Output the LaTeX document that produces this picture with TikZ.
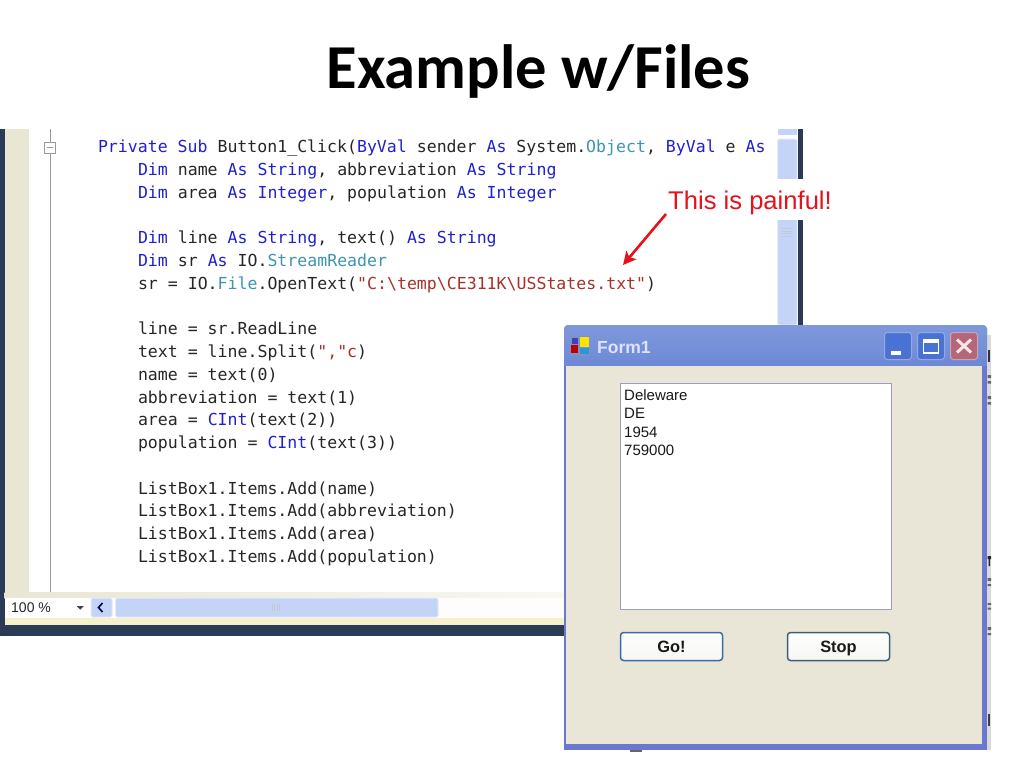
\documentclass[tikz,border=0pt]{standalone}
\usepackage{fontspec}
\usetikzlibrary{arrows.meta}
\setmainfont{Liberation Sans}
\newfontfamily\codefont{DejaVu Sans Mono}
\newfontfamily\titlefont{Carlito}
\definecolor{kwblue}{HTML}{2020D0}
\definecolor{typeteal}{HTML}{3F95AE}
\definecolor{strred}{HTML}{A8302A}
\definecolor{darkbar}{HTML}{2B3A55}
\definecolor{stripbeige}{HTML}{E9E6D4}
\definecolor{scrollblue}{HTML}{C3D4F7}
\definecolor{scrolledge}{HTML}{E3EBFB}
\definecolor{formbeige}{HTML}{E9E6D8}
\definecolor{formborder}{HTML}{6C78D0}
\definecolor{titletop}{HTML}{7F98DC}
\definecolor{titlebot}{HTML}{6E8AD6}
\definecolor{painred}{HTML}{E8101A}
\definecolor{winblue}{HTML}{4A72D2}
\definecolor{winrose}{HTML}{B4667A}
\definecolor{goedge}{HTML}{3C6AA8}
\definecolor{stopedge}{HTML}{3F5F78}
\newcommand{\kw}[1]{\textcolor{kwblue}{#1}}
\newcommand{\ty}[1]{\textcolor{typeteal}{#1}}
\newcommand{\st}[1]{\textcolor{strred}{#1}}
\tikzset{
  x=1pt,y=-1pt,
  codeline/.style={anchor=base west,inner sep=0pt,outer sep=0pt,text=black!85,font=\codefont\fontsize{16.55}{18}\selectfont},
  listline/.style={anchor=base west,inner sep=0pt,text=black!90,font=\fontsize{15}{16}\selectfont},
  formbutton/.style={draw=#1,line width=1.5pt,rounded corners=3pt,top color=white,bottom color=formbeige!80!gray!20,minimum width=102pt,minimum height=28pt,inner sep=0pt,text height=13pt,text depth=1pt,font=\bfseries\fontsize{16.4}{18}\selectfont,text=black!90},
  winbutton/.style={draw=#1!60!white,line width=1pt,rounded corners=3pt,fill=#1,minimum width=27pt,minimum height=27pt,inner sep=0pt},
  scrollpart/.style={fill=scrollblue,draw=scrolledge,line width=1pt,rounded corners=1.5pt},
}
\begin{document}
\begin{tikzpicture}
\useasboundingbox (0,0) rectangle (1024,768);
\fill[white] (0,0) rectangle (1024,768);
% title
\node[anchor=base,inner sep=0pt,font=\titlefont\bfseries\fontsize{62.5}{66}\selectfont,text=black] (title) at (538.5,88.5) {Example w/Files};
% editor frame
\fill[darkbar] (0,129) rectangle (4.5,636);
\fill[stripbeige] (4.5,129) rectangle (29,592);
\draw[gray!80,line width=1pt] (50.5,129) -- (50.5,142) (50.5,153) -- (50.5,592);
\draw[gray!80,line width=.8pt,fill=white] (44,142) rectangle (55,153);
\draw[gray!80,line width=.8pt] (46.5,147.5) -- (52.5,147.5);
% code
\node[codeline] (c1) at (98,152.5) {\kw{Private Sub} Button1\_Click(\kw{ByVal} sender \kw{As} System.\ty{Object}, \kw{ByVal} e \kw{As}};
\node[codeline] (c2) at (138,175) {\kw{Dim} name \kw{As} \kw{String}, abbreviation \kw{As} \kw{String}};
\node[codeline] (c3) at (138,198) {\kw{Dim} area \kw{As} \kw{Integer}, population \kw{As} \kw{Integer}};
\node[codeline] (c4) at (138,243.5) {\kw{Dim} line \kw{As} \kw{String}, text() \kw{As} \kw{String}};
\node[codeline] (c5) at (138,266.5) {\kw{Dim} sr \kw{As} IO.\ty{StreamReader}};
\node[codeline] (c6) at (138,289) {sr = IO.\ty{File}.OpenText(\st{"C:\textbackslash temp\textbackslash CE311K\textbackslash USStates.txt"})};
\node[codeline] (c7) at (138,334.5) {line = sr.ReadLine};
\node[codeline] (c8) at (138,357.5) {text = line.Split(\st{","c})};
\node[codeline] (c9) at (138,380) {name = text(0)};
\node[codeline] (c10) at (138,403) {abbreviation = text(1)};
\node[codeline] (c11) at (138,425.5) {area = \kw{CInt}(text(2))};
\node[codeline] (c12) at (138,448.5) {population = \kw{CInt}(text(3))};
\node[codeline] (c13) at (138,494) {ListBox1.Items.Add(name)};
\node[codeline] (c14) at (138,516.5) {ListBox1.Items.Add(abbreviation)};
\node[codeline] (c15) at (138,539) {ListBox1.Items.Add(area)};
\node[codeline] (c16) at (138,562) {ListBox1.Items.Add(population)};
% right scrollbar
\fill[scrollblue] (777.5,129) rectangle (797,134.5);
\draw[scrollpart] (777.5,139) rectangle (797,325);
\fill[darkbar] (798,129) rectangle (803,325);
\draw[scrollblue!60!gray!70,line width=.6pt] (782,228.5) -- (792,228.5) (782,231) -- (792,231) (782,233.5) -- (792,233.5) (782,236) -- (792,236);
% white patch behind the callout
\fill[white] (660,179) rectangle (835,220);
% bottom status bar
\shade[left color=stripbeige,right color=stripbeige!30!white] (4.5,592) rectangle (564,598);
\fill[white!94!stripbeige] (4.5,598) rectangle (564,618);
\fill[yellow!18!stripbeige!65!white] (4.5,618) rectangle (564,625);
\fill[white] (4.5,598) rectangle (88,618);
\fill[darkbar] (0,625) rectangle (564,636);
\node[anchor=base west,inner sep=0pt,text=black!85,font=\fontsize{14}{16}\selectfont] (zoomtxt) at (11,612) {100 \%};
\fill[black!75] (76.5,606) -- (84,606) -- (80.25,609.5) -- cycle;
\draw[scrollpart] (91,598) rectangle (112,617);
\draw[black!70!blue,line width=1.6pt] (102.5,603) -- (98.5,607.5) -- (102.5,612);
\draw[scrollpart] (115.5,598) rectangle (438,617);
\draw[scrollblue!60!gray!70,line width=.6pt] (272,604) -- (272,611) (274.5,604) -- (274.5,611) (277,604) -- (277,611) (279.5,604) -- (279.5,611);
% callout
\node[anchor=base west,inner sep=0pt,text=painred,font=\fontsize{25.6}{28}\selectfont] (pain) at (668,209) {This is painful!};
\coordinate (paintip) at (623,265);
\coordinate (painstart) at (666,214);
\draw[painred,line width=2.6pt,-{Stealth[length=13pt,width=13pt,inset=3pt]}] (painstart) -- (paintip);
% remains of the window behind the form, on its right
\fill[gray!30] (985,335) rectangle (991,750);
\fill[black!80] (987.5,350) rectangle (990,362);
\fill[black!60] (987.5,375) rectangle (991,378) (987.5,381) rectangle (991,383.5);
\fill[black!60] (987.5,396) rectangle (991,399) (987.5,402) rectangle (991,404.5);
\fill[black!85] (987.5,556) rectangle (991,559) (988.5,556) rectangle (990,566);
\fill[black!60] (987.5,578) rectangle (991,581) (987.5,584) rectangle (991,586);
\fill[black!60] (987.5,603) rectangle (991,605) (987.5,607.5) rectangle (991,609.5);
\fill[black!60] (987.5,627) rectangle (991,630) (987.5,633) rectangle (991,635);
\fill[black!75] (987.5,714) rectangle (990,726);
\fill[black!60] (630,749) rectangle (642,751.5);
% form
\fill[formborder,rounded corners=4pt] (564,340) -- (564,325) -- (987,325) -- (987,340) -- cycle;
\fill[formborder] (564,335) rectangle (987,750);
\shade[top color=titletop,bottom color=titlebot,rounded corners=4pt] (564,325) rectangle (987,365.5);
\fill[titlebot] (564,360) rectangle (987,366);
\fill[formbeige] (566,366) rectangle (982,744);
% form icon
\fill[gray!25!titletop] (570,336) rectangle (590,356);
\fill[blue!50!gray] (572,338) rectangle (578,344);
\fill[yellow!85!orange] (579.5,337) rectangle (589,346.5);
\fill[red!75!black] (571,345) rectangle (578,353);
\fill[blue!35!cyan!70!gray] (580,348) rectangle (589,354);
\node[anchor=base west,inner sep=0pt,text=white!88!blue,font=\bfseries\fontsize{17.5}{20}\selectfont] (formtitle) at (597,353) {Form1};
% window buttons
\node[winbutton=winblue] (minbtn) at (898,346) {};
\node[winbutton=winblue] (maxbtn) at (931,346) {};
\node[winbutton=winrose] (closebtn) at (964,346) {};
\fill[white] (891,350.5) rectangle (901,354.5);
\draw[white,line width=1.2pt] (923.5,340) rectangle (938.5,353);
\fill[white] (923.5,339) rectangle (938.5,342.5);
\draw[white!90!red,line width=3pt] (957,339.5) -- (971,352.5) (971,339.5) -- (957,352.5);
% list box
\node[draw=blue!30!gray!60,line width=1.3pt,fill=white,anchor=north west,minimum width=271pt,minimum height=226pt,inner sep=0pt] (listbox) at (619.5,383) {};
\node[listline] (l1) at (624,400.5) {Deleware};
\node[listline] (l2) at (624,418.5) {DE};
\node[listline] (l3) at (624,437.5) {1954};
\node[listline] (l4) at (624,455.5) {759000};
% form buttons
\node[formbutton=goedge] (go) at (671.5,646.5) {Go!};
\node[formbutton=stopedge] (stopbtn) at (838.5,646.5) {Stop};
\end{tikzpicture}
\end{document}
